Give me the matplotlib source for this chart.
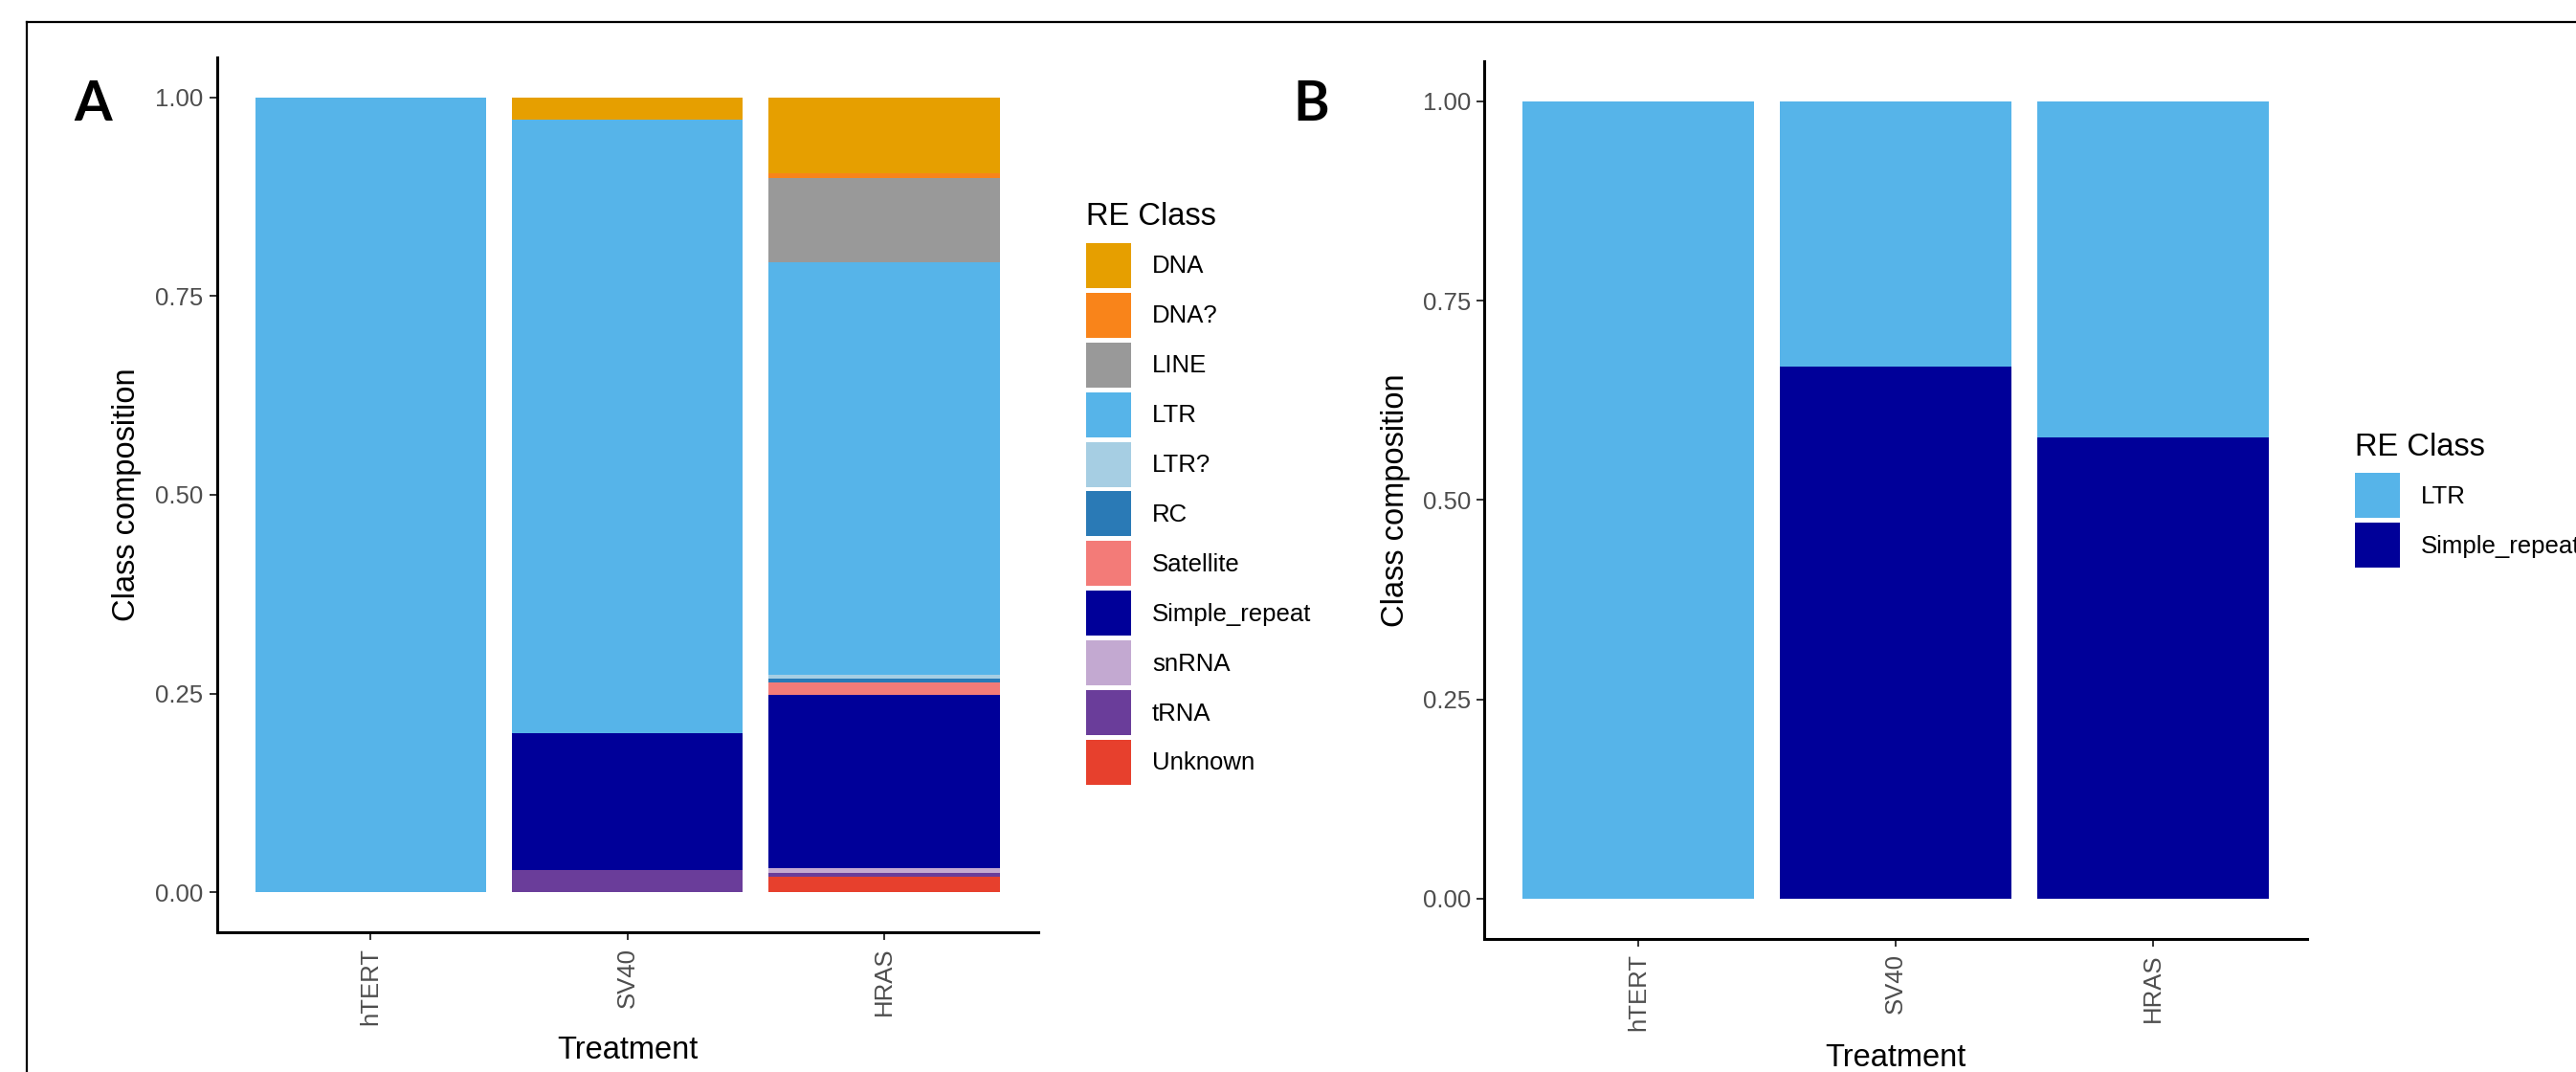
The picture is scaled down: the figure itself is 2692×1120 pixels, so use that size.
import numpy as np
import matplotlib
matplotlib.use('agg')
import matplotlib.pyplot as plt
from matplotlib.patches import Patch
from matplotlib.lines import Line2D

plt.rcParams['font.family'] = ['Liberation Sans', 'DejaVu Sans']

# --- data -------------------------------------------------------------
treatments = ["hTERT", "SV40", "HRAS"]

classes_a = ["DNA", "DNA?", "LINE", "LTR", "LTR?", "RC", "Satellite",
             "Simple_repeat", "snRNA", "tRNA", "Unknown"]
dna = [0.0, 0.028, 0.096]
dna_q = [0.0, 0.0, 0.006]
line = [0.0, 0.0, 0.105]
ltr = [1.0, 0.772, 0.519]
ltr_q = [0.0, 0.0, 0.005]
rc = [0.0, 0.0, 0.005]
satellite = [0.0, 0.0, 0.016]
simple_repeat = [0.0, 0.172, 0.217]
snrna = [0.0, 0.0, 0.006]
trna = [0.0, 0.028, 0.005]
unknown = [0.0, 0.0, 0.020]

classes_b = ["LTR", "Simple_repeat"]
ltr_b = [1.0, 0.333, 0.422]
simple_repeat_b = [0.0, 0.667, 0.578]

colors = {
    "DNA": "#E69F00", "DNA?": "#F9841A", "LINE": "#999999", "LTR": "#56B4E9",
    "LTR?": "#A6CEE3", "RC": "#2A7AB6", "Satellite": "#F37B78",
    "Simple_repeat": "#000099", "snRNA": "#C3A9D1", "tRNA": "#6A3D9A",
    "Unknown": "#E7402D",
}

values_a = [dna, dna_q, line, ltr, ltr_q, rc, satellite, simple_repeat,
            snrna, trna, unknown]
values_b = [ltr_b, simple_repeat_b]

W, H = 2692, 1120
fig = plt.figure(figsize=(W / 100, H / 100), dpi=100)

TICK_FS = 18.5
TITLE_FS = 23.5


def stacked(ax, classes, values):
    x = np.arange(len(treatments))
    bottom = np.zeros(len(treatments))
    # ggplot stacks the first level on top, so draw from the last one up
    for name, vals in zip(classes[::-1], values[::-1]):
        vals = np.array(vals)
        ax.bar(x, vals, width=0.9, bottom=bottom, color=colors[name],
               linewidth=0)
        bottom += vals
    ax.set_xlim(-0.6, 2.6)
    ax.set_ylim(-0.05, 1.05)
    ax.set_xticks(x, treatments, rotation=90)
    ax.set_yticks([0, 0.25, 0.5, 0.75, 1.0],
                  ["0.00", "0.25", "0.50", "0.75", "1.00"])
    for s in ["top", "right"]:
        ax.spines[s].set_visible(False)
    for s in ["left", "bottom"]:
        ax.spines[s].set_linewidth(2.2)
        ax.spines[s].set_color("black")
    ax.tick_params(axis="both", length=5.5, width=1.4, color="#333333",
                   labelsize=TICK_FS, labelcolor="#4D4D4D")
    ax.tick_params(axis="x", pad=6)
    ax.tick_params(axis="y", pad=4.5)
    ax.set_xlabel("Treatment", fontsize=TITLE_FS, va="top")
    ax.set_ylabel("Class composition", fontsize=TITLE_FS, va="center")
    handles = [Patch(facecolor=colors[c], edgecolor="none") for c in classes]
    return handles


def add_legend(ax, handles, labels, x_px, y_px):
    leg = ax.legend(handles, labels, title="RE Class", loc="upper left",
                    bbox_to_anchor=(x_px / W, 1 - y_px / H),
                    bbox_transform=fig.transFigure, frameon=False,
                    fontsize=TICK_FS, title_fontsize=TITLE_FS,
                    handlelength=1.83, handleheight=2.44, labelspacing=0.19,
                    handletextpad=0.85, borderpad=0, borderaxespad=0,
                    alignment="left")
    # a bit more room between the title and the keys, like ggplot
    leg._legend_box.sep = 8.5
    return leg


# panel A
ax_a = fig.add_axes([226.5 / W, 146 / H, 858.5 / W, 914 / H])
h_a = stacked(ax_a, classes_a, values_a)
ax_a.xaxis.set_label_coords(0.5, -0.1186)
ax_a.yaxis.set_label_coords(-0.110, 0.5)
add_legend(ax_a, h_a, classes_a, 1135, 211)

# panel B
ax_b = fig.add_axes([1551 / W, 139.5 / H, 860 / W, 916.2 / H])
h_b = stacked(ax_b, classes_b, values_b)
ax_b.xaxis.set_label_coords(0.5, -0.1197)
ax_b.yaxis.set_label_coords(-0.108, 0.5)
add_legend(ax_b, h_b, classes_b, 2461, 451.5)

# panel letters
fig.text(97.5 / W, 1 - 126 / H, "A", fontsize=41, fontweight="bold",
         family="Lato", ha="center", va="baseline")
fig.text(1370 / W, 1 - 126 / H, "B", fontsize=41, fontweight="bold",
         family="Lato", ha="center", va="baseline")

# outer frame (only top and left edges are inside the image)
fig.add_artist(Line2D([28 / W, 1.0], [1 - 23 / H, 1 - 23 / H],
                      transform=fig.transFigure, color="black", lw=1.6))
fig.add_artist(Line2D([28 / W, 28 / W], [1 - 23 / H, 0.0],
                      transform=fig.transFigure, color="black", lw=1.6))

fig.savefig("out.png", dpi=100, facecolor="white")
